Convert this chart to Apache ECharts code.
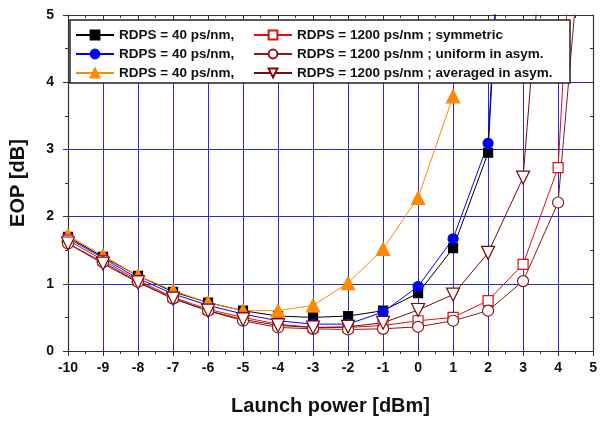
<!DOCTYPE html>
<html>
<head>
<meta charset="utf-8">
<script src="https://cdn.jsdelivr.net/npm/echarts@6/dist/echarts.min.js"></script>
<style>
  html, body { margin: 0; padding: 0; background: #fff; }
  #chart { width: 600px; height: 421px; }
</style>
</head>
<body>
<div id="chart"></div>
<script>
var power = [-10, -9, -8, -7, -6, -5, -4, -3, -2, -1, 0, 1, 2, 3, 4, 5];

// RDPS = 40 ps/nm
var sym40 = [1.70, 1.40, 1.12, 0.88, 0.72, 0.60, 0.52, 0.50, 0.52, 0.60, 0.86, 1.53, 2.95, 13.0];
var uni40 = [1.68, 1.38, 1.08, 0.85, 0.68, 0.55, 0.45, 0.40, 0.40, 0.58, 0.96, 1.67, 3.09, 13.0];
var avg40 = [1.72, 1.42, 1.12, 0.90, 0.72, 0.60, 0.60, 0.68, 1.01, 1.52, 2.28, 3.79];
// RDPS = 1200 ps/nm
var sym1200 = [1.65, 1.35, 1.05, 0.80, 0.62, 0.50, 0.40, 0.35, 0.35, 0.38, 0.45, 0.50, 0.75, 1.29, 2.73, 12.0];
var uni1200 = [1.60, 1.32, 1.03, 0.78, 0.60, 0.45, 0.35, 0.33, 0.32, 0.33, 0.36, 0.45, 0.60, 1.04, 2.21, 8.2];
var avg1200 = [1.60, 1.30, 1.02, 0.78, 0.60, 0.47, 0.38, 0.35, 0.36, 0.42, 0.61, 0.84, 1.46, 2.58, 9.1];

var legendText = {
    s40: 'RDPS = 40 ps/nm,',
    u40: 'RDPS = 40 ps/nm,',
    a40: 'RDPS = 40 ps/nm,',
    s1200: 'RDPS = 1200 ps/nm ; symmetric',
    u1200: 'RDPS = 1200 ps/nm ; uniform in asym.',
    a1200: 'RDPS = 1200 ps/nm ; averaged in asym.'
};

function pairs(vals) {
    return vals.map(function (v, i) { return [power[i], v]; });
}

function mk(name, vals, symbol, size, fill, stroke, rotate) {
    return {
        name: name,
        type: 'line',
        data: pairs(vals),
        symbol: symbol,
        symbolSize: size,
        symbolRotate: rotate || 0,
        clip: true,
        lineStyle: { color: stroke, width: 1 },
        itemStyle: { color: fill, borderColor: stroke, borderWidth: 1.2 },
        z: 2
    };
}

var series = [
    mk('s40', sym40, 'rect', 9, '#000', '#000'),
    mk('u40', uni40, 'circle', 10, '#0000ff', '#0000ff'),
    mk('a40', avg40, 'triangle', 13, '#ff8a00', '#ff8a00'),
    mk('s1200', sym1200, 'rect', 10, '#fff', '#dd1111'),
    mk('u1200', uni1200, 'circle', 11, '#fff', '#8a1a1a'),
    mk('a1200', avg1200, 'triangle', 13, '#fff', '#7a0a0a', 180)
];

var txtStyle = { fontFamily: 'Liberation Sans', fontWeight: 'bold', fontSize: 13.5, color: '#111' };
var boldFont = 'Liberation Sans';

function leg(name, left, top) {
    return {
        data: [name],
        left: left,
        top: top,
        itemWidth: 38,
        itemHeight: 11,
        itemGap: 0,
        padding: 0,
        selectedMode: false,
        textStyle: txtStyle,
        formatter: function (n) { return legendText[n]; },
        z: 5
    };
}

function frameAxis(pos, min, max) {
    return {
        type: 'value', position: pos,
        min: min, max: max, interval: 1,
        axisLine: { show: true, onZero: false, lineStyle: { color: '#333', width: 1.2 } },
        axisTick: { show: true, inside: true, length: 5, lineStyle: { color: '#333' } },
        minorTick: { show: true, splitNumber: 2, length: 3, lineStyle: { color: '#333' } },
        splitLine: { show: false },
        axisLabel: { show: false }
    };
}

var chart = echarts.init(document.getElementById('chart'));

var option = {
    animation: false,
    backgroundColor: '#fff',
    grid: { left: 63, right: 3, top: 15, bottom: 61 },
    graphic: [{
        type: 'rect',
        shape: { x: 70, y: 20, width: 500, height: 63 },
        style: { fill: '#fff', stroke: '#222', lineWidth: 1.5 },
        z: 3
    }],
    legend: [
        leg('s40', 75, 28), leg('s1200', 253, 28),
        leg('u40', 75, 47), leg('u1200', 253, 47),
        leg('a40', 75, 66), leg('a1200', 253, 66)
    ],
    xAxis: [{
        type: 'value',
        min: -10, max: 5, interval: 1,
        name: 'Launch power [dBm]',
        nameLocation: 'middle',
        nameGap: 45,
        nameTextStyle: { fontFamily: boldFont, fontWeight: 'bold', fontSize: 20, color: '#111' },
        axisLine: { onZero: false, lineStyle: { color: '#333', width: 1.2 } },
        axisTick: { show: true, length: 5, lineStyle: { color: '#333' } },
        minorTick: { show: true, splitNumber: 2, length: 3, lineStyle: { color: '#333' } },
        splitLine: { show: true, lineStyle: { color: '#2a2ad4', width: 1 } },
        axisLabel: { fontFamily: boldFont, fontWeight: 'bold', fontSize: 14, color: '#111', margin: 10 }
    }, frameAxis('top', -10, 5)],
    yAxis: [{
        type: 'value',
        min: 0, max: 5, interval: 1,
        name: 'EOP [dB]',
        nameLocation: 'middle',
        nameGap: 40,
        nameTextStyle: { fontFamily: boldFont, fontWeight: 'bold', fontSize: 20, color: '#111' },
        axisLine: { show: true, onZero: false, lineStyle: { color: '#333', width: 1.2 } },
        axisTick: { show: true, length: 5, lineStyle: { color: '#333' } },
        minorTick: { show: true, splitNumber: 2, length: 3, lineStyle: { color: '#333' } },
        splitLine: { show: true, lineStyle: { color: '#2a2ad4', width: 1 } },
        axisLabel: { fontFamily: boldFont, fontWeight: 'bold', fontSize: 14, color: '#111', margin: 14 }
    }, frameAxis('right', 0, 5)],
    series: series
};

chart.setOption(option);
</script>
</body>
</html>
